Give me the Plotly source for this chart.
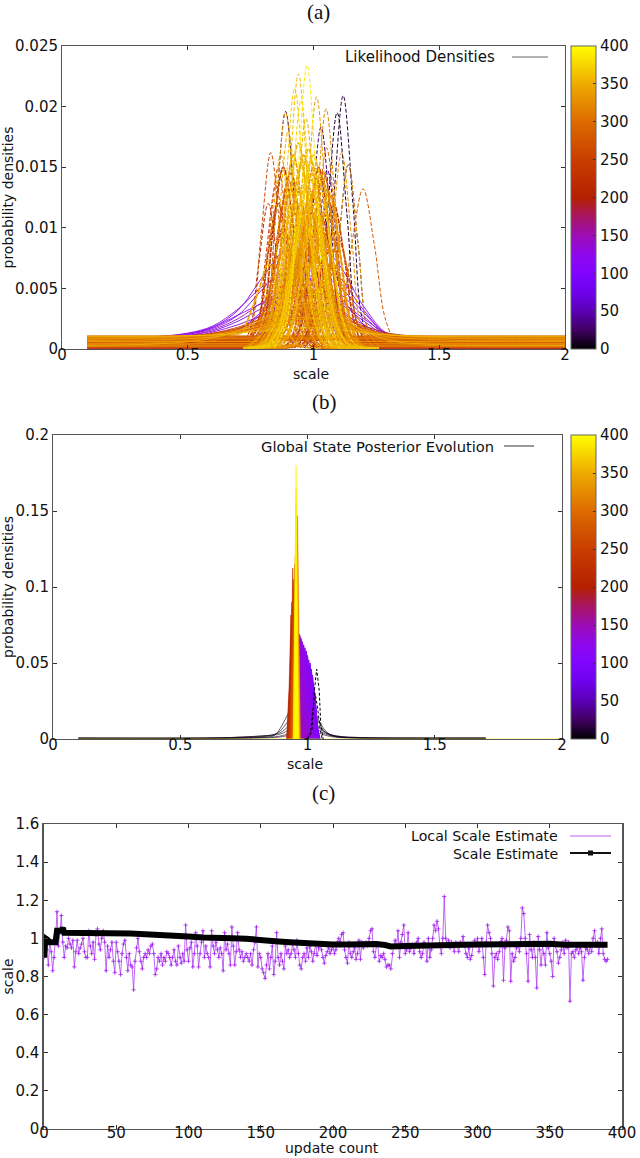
import plotly.graph_objects as go
from plotly.colors import sample_colorscale

W, H = 640, 1158

# colour scale (update count 0..400)
cb_stops = [0, 25, 50, 75, 100, 125, 150, 175, 200, 250, 300, 350, 400]
cb_colors = ["rgb(0,0,0)", "rgb(64,0,98)", "rgb(90,0,180)", "rgb(110,2,236)", "rgb(128,4,255)",
             "rgb(143,8,236)", "rgb(156,13,180)", "rgb(168,21,98)", "rgb(180,32,0)", "rgb(201,62,0)",
             "rgb(221,107,0)", "rgb(238,171,0)", "rgb(255,255,0)"]
cb_ticks = [0, 50, 100, 150, 200, 250, 300, 350, 400]

# ---- panel (a): densities typed in thousandths ----
a_x_ticks = [0, 0.5, 1, 1.5, 2]
a_y_ticks = [0, 0.005, 0.01, 0.015, 0.02, 0.025]
a_y_labels = ["0", "0.005", "0.01", "0.015", "0.02", "0.025"]

# tall narrow likelihoods, each with its own x points
tall_t = [15, 10, 20, 30, 25, 35, 18, 260, 280, 330, 340, 320, 340, 360, 390, 375, 345, 330, 300, 350, 370, 290, 340, 250, 210]
tall_x = [
    [.988, 1.038, 1.078, 1.118, 1.158, 1.198, 1.248],
    [.964, 1.014, 1.054, 1.094, 1.134, 1.174, 1.224],
    [.759, .809, .849, .889, .929, .969, 1.019],
    [.900, .950, .990, 1.030, 1.070, 1.110, 1.160],
    [.890, .940, .980, 1.020, 1.060, 1.100, 1.150],
    [.925, .975, 1.015, 1.055, 1.095, 1.135, 1.185],
    [1.008, 1.058, 1.098, 1.138, 1.178, 1.218, 1.268],
    [.700, .750, .790, .830, .870, .910, .960],
    [1.060, 1.110, 1.152, 1.197, 1.242, 1.284, 1.330],
    [.982, 1.032, 1.072, 1.112, 1.152, 1.192, 1.242],
    [1.008, 1.058, 1.098, 1.138, 1.178, 1.218, 1.268],
    [.920, .970, 1.010, 1.050, 1.090, 1.130, 1.180],
    [.882, .932, .972, 1.012, 1.052, 1.092, 1.142],
    [.810, .860, .900, .940, .980, 1.020, 1.070],
    [.844, .894, .934, .974, 1.014, 1.054, 1.104],
    [.820, .870, .910, .950, .990, 1.030, 1.080],
    [.840, .890, .930, .970, 1.010, 1.050, 1.100],
    [.759, .809, .849, .889, .929, .969, 1.019],
    [.922, .972, 1.012, 1.052, 1.092, 1.132, 1.182],
    [.770, .820, .860, .900, .940, .980, 1.030],
    [.795, .845, .885, .925, .965, 1.005, 1.055],
    [.730, .780, .820, .860, .900, .940, .990],
    [.740, .790, .830, .870, .910, .950, 1.000],
    [.720, .770, .810, .850, .890, .930, .980],
    [.690, .740, .780, .820, .860, .900, .950],
]
tall_y = [
    [.1, 2.1, 11.7, 20.9, 11.7, 2.1, .1],
    [.1, 2.0, 10.9, 19.5, 10.9, 2.0, .1],
    [.1, 2.0, 11.0, 19.6, 11.0, 2.0, .1],
    [.1, 1.8, 10.2, 18.3, 10.2, 1.8, .1],
    [.1, 1.5, 8.3, 14.8, 8.3, 1.5, .1],
    [.1, 1.5, 8.3, 14.8, 8.3, 1.5, .1],
    [.1, 1.5, 8.5, 15.2, 8.5, 1.5, .1],
    [.1, 1.6, 9.1, 16.2, 9.1, 1.6, .1],
    [.1, 2.6, 8.6, 13.2, 8.6, 2.6, .2],
    [.1, 1.6, 9.1, 16.2, 9.1, 1.6, .1],
    [.1, 1.5, 8.5, 15.2, 8.5, 1.5, .1],
    [.1, 2.0, 11.1, 19.8, 11.1, 2.0, .1],
    [.1, 2.1, 11.6, 20.8, 11.6, 2.1, .1],
    [.1, 2.3, 12.7, 22.7, 12.7, 2.3, .1],
    [.1, 2.3, 13.1, 23.4, 13.1, 2.3, .1],
    [.1, 2.1, 11.5, 20.5, 11.5, 2.1, .1],
    [.1, 1.9, 10.6, 19.0, 10.6, 1.9, .1],
    [.1, 2.0, 10.9, 19.5, 10.9, 2.0, .1],
    [.1, 1.7, 9.3, 16.6, 9.3, 1.7, .1],
    [.1, 1.8, 10.0, 18.0, 10.0, 1.8, .1],
    [.1, 2.2, 12.0, 21.5, 12.0, 2.2, .1],
    [.1, 1.5, 8.4, 15.0, 8.4, 1.5, .1],
    [.1, 1.6, 9.0, 16.0, 9.0, 1.6, .1],
    [.1, 1.4, 7.6, 13.5, 7.6, 1.4, .1],
    [.1, 1.2, 6.7, 12.0, 6.7, 1.2, .1],
]

# the dense orange mass, on three shared grids
mass_grid_a = [.72, .78, .82, .86, .90, .94, .98, 1.02, 1.06, 1.10, 1.14, 1.18, 1.24]
mass_a_t = [230, 290, 330, 355, 310, 340, 360, 325, 350, 260, 300, 335, 215, 280, 345, 320, 120, 150, 180, 365]
mass_a_y = [
    [.3, 2.4, 8.0, 12.0, 8.0, 2.4, .4, .1, .1, .1, .1, .1, .1],
    [.1, .6, 2.8, 9.4, 14.0, 9.4, 2.8, .4, .1, .1, .1, .1, .1],
    [.1, .4, 2.0, 6.7, 10.0, 6.7, 2.0, .3, .1, .1, .1, .1, .1],
    [.1, .2, .5, 3.4, 11.4, 17.0, 11.4, 3.4, .5, .1, .1, .1, .1],
    [.1, .2, .4, 2.6, 8.7, 13.0, 8.7, 2.6, .4, .1, .1, .1, .1],
    [.1, .2, .3, 1.8, 6.0, 9.0, 6.0, 1.8, .3, .1, .1, .1, .1],
    [.1, .1, .2, .5, 3.3, 11.0, 16.5, 11.0, 3.3, .5, .1, .1, .1],
    [.1, .1, .2, .4, 2.4, 8.0, 12.0, 8.0, 2.4, .4, .1, .1, .1],
    [.1, .1, .2, .3, 1.4, 4.7, 7.0, 4.7, 1.4, .3, .1, .1, .1],
    [.1, .1, .1, .2, .5, 3.0, 10.0, 15.0, 10.0, 3.0, .5, .1, .1],
    [.1, .1, .1, .2, .4, 2.0, 6.7, 10.0, 6.7, 2.0, .4, .1, .1],
    [.1, .1, .1, .1, .2, .5, 2.6, 8.7, 13.0, 8.7, 2.6, .4, .1],
    [.1, .1, .1, .1, .2, .4, 1.6, 5.4, 8.0, 5.4, 1.6, .3, .1],
    [.1, .1, .1, .1, .1, .2, .4, 1.8, 6.0, 9.0, 6.0, 1.8, .2],
    [1.4, 4.7, 7.0, 4.7, 1.4, .3, .1, .1, .1, .1, .1, .1, .1],
    [.1, .9, 3.0, 5.5, 7.0, 5.5, 3.0, .9, .2, .1, .1, .1, .1],
    [.2, 1.0, 2.6, 4.4, 6.0, 7.0, 6.0, 4.4, 2.6, 1.0, .3, .1, .1],
    [.2, .9, 2.2, 4.0, 5.8, 7.5, 7.8, 5.8, 3.4, 1.4, .5, .1, .1],
    [.1, .5, 1.4, 3.0, 5.2, 7.2, 8.0, 7.2, 5.0, 2.4, .8, .2, .1],
    [.1, .2, .4, 1.6, 5.4, 11.0, 14.5, 11.0, 5.4, 1.6, .4, .1, .1],
]
mass_grid_b = [.74, .80, .84, .88, .92, .96, 1.00, 1.04, 1.08, 1.12, 1.16, 1.20, 1.26]
mass_b_t = [220, 275, 335, 350, 305, 345, 360, 315, 355, 285, 330, 240, 320, 295, 340, 200, 270, 310, 370, 325]
mass_b_y = [
    [.4, 3.0, 10.0, 15.0, 10.0, 3.0, .5, .1, .1, .1, .1, .1, .1],
    [.3, 2.0, 6.7, 10.0, 6.7, 2.0, .3, .1, .1, .1, .1, .1, .1],
    [.1, .5, 3.2, 10.7, 16.0, 10.7, 3.2, .5, .1, .1, .1, .1, .1],
    [.1, .4, 2.4, 8.0, 12.0, 8.0, 2.4, .4, .1, .1, .1, .1, .1],
    [.1, .2, 1.6, 5.4, 8.0, 5.4, 1.6, .3, .1, .1, .1, .1, .1],
    [.1, .1, .4, 3.2, 10.7, 16.0, 10.7, 3.2, .5, .1, .1, .1, .1],
    [.1, .1, .3, 2.2, 7.4, 11.0, 7.4, 2.2, .3, .1, .1, .1, .1],
    [.1, .1, .2, .5, 3.0, 10.0, 15.0, 10.0, 3.0, .5, .1, .1, .1],
    [.1, .1, .2, .4, 2.2, 7.4, 11.0, 7.4, 2.2, .4, .1, .1, .1],
    [.1, .1, .1, .2, .5, 2.9, 9.8, 14.6, 9.8, 2.9, .5, .1, .1],
    [.1, .1, .1, .2, .4, 1.9, 6.4, 9.5, 6.4, 1.9, .4, .1, .1],
    [.1, .1, .1, .1, .2, .5, 2.4, 8.0, 12.0, 8.0, 2.4, .4, .1],
    [.1, .1, .1, .1, .2, .4, 1.4, 4.7, 7.0, 4.7, 1.4, .3, .1],
    [.6, 3.0, 6.0, 8.0, 6.0, 3.0, .6, .2, .1, .1, .1, .1, .1],
    [.2, 1.4, 3.6, 6.0, 8.4, 6.0, 3.6, 1.4, .4, .1, .1, .1, .1],
    [.2, 1.2, 2.8, 5.0, 7.0, 8.4, 7.0, 5.0, 2.8, 1.2, .3, .1, .1],
    [.1, .8, 2.2, 4.4, 7.4, 10.2, 10.8, 7.4, 4.0, 1.8, .5, .1, .1],
    [.1, .3, 1.2, 3.0, 6.0, 9.0, 11.2, 9.6, 6.0, 2.6, .8, .2, .1],
    [.1, .2, .5, 2.2, 7.0, 12.4, 16.0, 12.4, 7.0, 2.2, .5, .1, .1],
    [.1, .1, .4, 1.6, 4.8, 9.2, 13.0, 13.6, 9.0, 3.4, .8, .2, .1],
]
mass_grid_c = [.73, .79, .83, .87, .91, .95, .99, 1.03, 1.07, 1.11, 1.15, 1.19, 1.25]
mass_c_t = [235, 315, 340, 325, 355, 300, 345, 265, 330, 310, 350, 285, 335, 320, 345, 360]
mass_c_y = [
    [.2, 1.6, 5.4, 11.0, 14.5, 9.5, 3.0, .5, .1, .1, .1, .1, .1],
    [.1, .6, 2.6, 8.4, 13.2, 11.0, 4.4, .8, .1, .1, .1, .1, .1],
    [.1, .4, 1.5, 5.0, 10.6, 15.2, 10.6, 3.2, .5, .1, .1, .1, .1],
    [.1, .3, 1.0, 3.4, 8.0, 12.0, 8.0, 3.0, .6, .1, .1, .1, .1],
    [.1, .2, .6, 2.4, 6.4, 11.0, 15.6, 10.4, 3.0, .5, .1, .1, .1],
    [.1, .2, .5, 1.8, 4.6, 8.6, 11.4, 8.2, 3.2, .7, .1, .1, .1],
    [.1, .1, .4, 1.2, 3.4, 7.0, 12.0, 14.4, 8.6, 2.6, .4, .1, .1],
    [.1, .1, .3, 1.0, 2.6, 5.4, 9.0, 11.0, 7.6, 2.8, .6, .1, .1],
    [.1, .1, .2, .6, 1.8, 4.0, 7.0, 10.0, 12.6, 7.4, 2.2, .4, .1],
    [.1, .5, 1.8, 4.2, 7.4, 9.6, 7.2, 3.8, 1.2, .2, .1, .1, .1],
    [.1, .4, 1.4, 3.6, 7.0, 10.4, 9.2, 5.2, 1.8, .3, .1, .1, .1],
    [.1, .3, 1.2, 3.0, 5.6, 8.0, 8.8, 6.6, 3.0, .8, .1, .1, .1],
    [.1, .2, .8, 2.4, 5.2, 8.6, 10.2, 8.0, 4.0, 1.2, .2, .1, .1],
    [.1, .2, .6, 1.8, 4.2, 7.4, 9.4, 8.8, 5.4, 2.0, .4, .1, .1],
    [.1, .3, .9, 2.6, 6.2, 10.0, 13.0, 10.2, 5.0, 1.4, .2, .1, .1],
    [.1, .2, .7, 2.2, 5.6, 9.8, 12.0, 8.4, 3.6, 1.0, .2, .1, .1],
]

# wide low likelihoods
wide_x = [.1, .35, .5, .6, .7, .8, .9, 1.0, 1.1, 1.2, 1.3, 1.45, 1.6, 2.0]
wide_t = [110, 95, 130, 150, 120, 85, 140, 100, 160, 210, 235, 255, 270, 285, 300, 315, 325, 340, 350, 330, 345, 360, 295, 225, 295, 320]
wide_y = [
    [.9, 1.0, 1.3, 1.8, 3.2, 6.0, 8.5, 9.0, 7.0, 3.5, 1.2, 1.0, .9, .9],
    [.8, .9, 1.2, 1.7, 2.8, 5.0, 7.0, 7.6, 6.0, 3.2, 1.1, .9, .8, .8],
    [.7, .9, 1.3, 1.9, 3.3, 5.2, 6.2, 6.4, 5.2, 3.0, 1.1, .8, .7, .7],
    [.5, .7, 1.1, 1.6, 2.5, 3.9, 5.0, 5.3, 4.6, 2.7, 1.0, .6, .5, .5],
    [.4, .7, 1.2, 1.8, 2.8, 3.8, 4.5, 4.6, 4.0, 2.5, 1.2, .6, .4, .4],
    [.6, .8, 1.1, 1.5, 2.3, 3.4, 4.2, 4.4, 3.8, 2.3, 1.0, .7, .6, .6],
    [.3, .5, .9, 1.4, 2.0, 2.8, 3.4, 3.5, 3.0, 2.0, .9, .5, .3, .3],
    [.2, .3, .5, .9, 1.6, 3.2, 5.5, 6.0, 4.4, 2.0, .5, .3, .2, .2],
    [.2, .3, .5, .8, 1.5, 3.0, 5.0, 5.2, 3.5, 1.6, .5, .3, .2, .2],
    [.9, 1.0, 1.1, 1.3, 1.7, 2.3, 2.9, 3.0, 2.6, 1.9, 1.3, 1.0, .9, .9],
    [.8, .9, 1.0, 1.2, 1.6, 2.1, 2.6, 2.7, 2.3, 1.7, 1.2, .9, .8, .8],
    [.7, .8, 1.0, 1.3, 1.8, 2.5, 3.1, 3.2, 2.7, 1.8, 1.1, .8, .7, .7],
    [.95, 1.0, 1.1, 1.2, 1.5, 1.9, 2.3, 2.4, 2.0, 1.5, 1.2, 1.0, .95, .95],
    [.6, .7, .9, 1.2, 1.7, 2.6, 3.4, 3.6, 2.9, 1.8, 1.0, .7, .6, .6],
    [.5, .6, .8, 1.1, 1.6, 2.2, 2.7, 2.8, 2.4, 1.6, .9, .6, .5, .5],
    [1.0, 1.0, 1.1, 1.2, 1.4, 1.7, 2.0, 2.1, 1.8, 1.4, 1.15, 1.05, 1.0, 1.0],
    [.4, .5, .7, 1.0, 1.5, 2.4, 3.2, 3.4, 2.6, 1.5, .8, .5, .4, .4],
    [.9, .95, 1.05, 1.2, 1.5, 2.0, 2.5, 2.6, 2.2, 1.6, 1.2, 1.0, .9, .9],
    [.3, .4, .6, .9, 1.5, 2.5, 3.5, 3.7, 2.8, 1.5, .7, .4, .3, .3],
    [.8, .9, 1.0, 1.1, 1.35, 1.7, 2.1, 2.2, 1.9, 1.5, 1.15, .95, .85, .8],
    [.7, .75, .85, 1.0, 1.3, 1.8, 2.3, 2.5, 2.1, 1.4, 1.0, .8, .7, .7],
    [1.05, 1.05, 1.1, 1.15, 1.3, 1.5, 1.7, 1.75, 1.6, 1.35, 1.15, 1.05, 1.05, 1.05],
    [.5, .55, .7, .9, 1.3, 2.0, 2.9, 3.1, 2.3, 1.3, .75, .55, .5, .5],
    [.85, .9, 1.0, 1.15, 1.45, 1.9, 2.4, 2.5, 2.1, 1.5, 1.1, .95, .85, .85],
    [.6, .65, .8, 1.0, 1.35, 1.9, 2.4, 2.6, 2.2, 1.5, .95, .7, .6, .6],
    [.2, .3, .4, .7, 1.2, 2.2, 3.2, 3.4, 2.4, 1.2, .55, .3, .2, .2],
]

# nearly flat likelihoods: the low ones stop around the middle, the upper ones run across
floor_gap_x = [0.1, 0.78, None, 1.12, 2.0]
floor_full_x = [0.1, 2.0]
floor_low_t = [215, 120, 270, 240, 310, 100, 225, 330, 205, 285, 140, 320, 215, 255, 205, 290, 340, 235]
floor_low_y = [.05, .08, .12, .16, .2, .23, .27, .31, .34, .38, .41, .45, .49, .52, .56, .6, .63, .67]
floor_full_t = [225, 270, 130, 295, 215, 310, 205, 280, 235, 320, 215, 280]
floor_full_y = [.71, .74, .77, .8, .83, .86, .89, .92, .95, .98, 1.02, 1.08]

# ---- panel (b) ----
b_x_ticks = [0, 0.5, 1, 1.5, 2]
b_y_ticks = [0, 0.05, 0.1, 0.15, 0.2]
b_y_labels = ["0", "0.05", "0.1", "0.15", "0.2"]

# wide early posteriors in black, shared grid
black_x = [.1, .6, .75, .82, .87, .9, .925, .95, 1.0, 1.04, 1.07, 1.1, 1.14, 1.2, 1.3, 1.7]
black_t = [1, 3, 5, 7, 9, 10]
black_y = [
    [.0008, .0008, .0009, .0012, .0024, .009, .0171, .024, .03, .014, .0055, .002, .001, .0009, .0008, .0008],
    [.0006, .0006, .001, .0016, .003, .0065, .012, .016, .022, .012, .0045, .002, .0012, .0008, .0007, .0006],
    [.0004, .0005, .0013, .002, .003, .0048, .0085, .012, .016, .009, .0045, .0024, .0014, .001, .0006, .0004],
    [.0002, .0004, .0014, .002, .0026, .0036, .006, .009, .012, .008, .004, .0025, .0015, .001, .0004, .0002],
    [.0001, .0002, .0006, .001, .0014, .0022, .0036, .0055, .008, .006, .0032, .002, .0012, .0006, .0002, .0001],
    [.0001, .0002, .0004, .0007, .001, .0015, .0024, .0036, .005, .0042, .0024, .0014, .0008, .0004, .0002, .0001],
]

# dashed early narrow posteriors
dashed_t = [0, 4]
dashed_x = [[1.0, 1.018, 1.026, 1.036, 1.046, 1.052, 1.062], [.995, 1.012, 1.02, 1.03, 1.04, 1.05, 1.058]]
dashed_y = [[0, .006, .03, .046, .032, .01, 0], [0, .003, .018, .03, .02, .006, 0]]

# purple band, peak walking left as updates go on
purple_t = [90, 93, 96, 99, 102, 105, 108, 111, 114, 117, 120, 123, 126, 129, 132, 135, 138, 141]
purple_x = [
    [1.0, 1.018, 1.032, 1.04, 1.05], [.995, 1.016, 1.03, 1.04, 1.048],
    [.99, 1.012, 1.028, 1.038, 1.046], [.985, 1.006, 1.024, 1.036, 1.044],
    [.98, 1.0, 1.02, 1.033, 1.042], [.975, .995, 1.015, 1.03, 1.04],
    [.97, .99, 1.01, 1.026, 1.038], [.965, .985, 1.005, 1.022, 1.036],
    [.96, .98, 1.0, 1.018, 1.032], [.955, .975, .995, 1.014, 1.028],
    [.952, .97, .99, 1.01, 1.024], [.95, .965, .985, 1.005, 1.02],
    [.948, .962, .98, 1.0, 1.016], [.946, .958, .975, .995, 1.012],
    [.944, .954, .972, .99, 1.008], [.942, .952, .97, .985, 1.004],
    [.94, .95, .968, .98, 1.0], [.938, .948, .965, .976, .996],
]
purple_y = [
    [0, .006, .018, .006, 0], [0, .008, .026, .008, 0],
    [0, .01, .03, .01, 0], [0, .012, .036, .012, 0],
    [0, .016, .042, .016, 0], [0, .018, .046, .018, 0],
    [0, .02, .05, .02, 0], [0, .022, .052, .02, 0],
    [0, .024, .055, .022, 0], [0, .026, .058, .024, 0],
    [0, .028, .06, .024, 0], [0, .03, .062, .024, 0],
    [0, .032, .064, .024, 0], [0, .034, .066, .024, 0],
    [0, .036, .067, .022, 0], [0, .036, .068, .02, 0],
    [0, .036, .069, .018, 0], [0, .036, .069, .016, 0],
]

# the late spike
spike_t = [170, 190, 205, 215, 230, 250, 265, 280, 300, 320, 335, 350, 370, 385, 395]
spike_x = [
    [.922, .934, .945, .952, .962], [.92, .93, .938, .944, .954],
    [.918, .928, .935, .942, .95], [.92, .931, .938, .945, .952],
    [.924, .936, .942, .948, .954], [.928, .938, .944, .95, .956],
    [.932, .94, .946, .952, .958], [.936, .944, .95, .956, .962],
    [.94, .947, .952, .958, .964], [.948, .955, .961, .967, .972],
    [.946, .953, .958, .964, .97], [.944, .95, .957, .963, .969],
    [.944, .949, .954, .959, .965], [.945, .95, .955, .96, .965],
    [.947, .952, .955, .958, .963],
]
spike_y = [
    [0, .02, .05, .02, 0], [0, .03, .065, .03, 0],
    [0, .035, .0816, .035, 0], [0, .04, .09, .04, 0],
    [0, .05, .1125, .05, 0], [0, .05, .105, .05, 0],
    [0, .05, .1, .05, 0], [0, .055, .115, .055, 0],
    [0, .055, .12, .055, 0], [0, .065, .147, .065, 0],
    [0, .06, .13, .06, 0], [0, .07, .14, .07, 0],
    [0, .07, .155, .07, 0], [0, .075, .165, .075, 0],
    [0, .08, .18, .08, 0],
]
# last posteriors lie flat on the axis away from the spike
tail_t = [395]
tail_x = [.1, 2.0]
tail_y = [0, 0]

# ---- panel (c) ----
c_x_ticks = [0, 50, 100, 150, 200, 250, 300, 350, 400]
c_y_ticks = [0, 0.2, 0.4, 0.6, 0.8, 1, 1.2, 1.4, 1.6]
c_y_labels = ["0", "0.2", "0.4", "0.6", "0.8", "1", "1.2", "1.4", "1.6"]

local_scale = [
    .90, .98, .94, .86, .98, .93, .83, .90, 1.00, 1.14,
    .96, 1.03, 1.12, .98, .90, .96, .95, 1.00, .97, .95,
    .99, .85, .93, .99, .92, .95, .97, 1.00, .93, .90,
    .90, 1.04, .96, .92, .98, .89, 1.02, 1.05, .97, .94,
    1.00, 1.04, .98, .83, .96, .90, .94, .98, .88, .82,
    .98, .93, .88, .81, .92, .97, .99, .90, .83, .92,
    .86, .85, .73, .88, .95, 1.00, .93, .88, .84, .90,
    .92, .90, .94, .92, .96, .97, .92, .81, .84, .90,
    .88, .92, .86, .90, .88, .93, .92, .90, .86, .90,
    .94, .88, .86, .96, .90, .87, .92, .88, 1.07, .94,
    .88, .95, .98, .85, .92, 1.03, .96, .85, .92, .98,
    1.04, .90, .96, .92, .90, .85, 1.04, .96, .92, .98,
    .94, .90, .95, .92, .83, 1.03, .94, .97, .92, .86,
    1.06, .96, .86, .93, 1.03, .94, .90, .93, .88, .90,
    .92, .90, .88, .92, .86, .94, .98, 1.06, .85, .92,
    .90, .84, .82, .79, .86, .92, .84, .90, .96, .81,
    .88, 1.03, .90, .86, .92, .88, .84, .96, .92, .94,
    .90, .92, .97, .94, .90, .99, .92, .86, .84, .90,
    .92, .88, .95, .90, .96, .93, .88, .92, .97, .91,
    .95, .97, .94, .90, .87, .91, .93, .95, .92, .94,
    .96, .92, .94, .98, 1.00, .98, 1.02, 1.03, .94, .90,
    .87, .98, .92, .90, .93, .95, .89, .92, .99, .89,
    .98, .95, .97, .98, .96, 1.00, 1.04, 1.05, .93, .90,
    .96, .97, .88, .91, .90, .92, .89, .85, .86, .86,
    .84, .92, .96, .99, .96, 1.04, .90, .98, 1.02, 1.07,
    .92, .94, 1.03, .93, .95, .97, .92, .96, .98, 1.00,
    .93, .90, .92, .98, .97, .88, 1.00, .90, .94, 1.00,
    1.07, 1.04, 1.09, 1.05, .96, .92, 1.00, 1.22, 1.00, .97,
    .99, .95, .98, .96, .93, .98, .96, .93, .98, .97,
    1.01, .96, .92, .90, .95, .89, .91, .97, .99, .96,
    1.00, .93, .97, 1.00, .90, .81, .98, 1.07, 1.03, 1.00,
    .92, .75, .90, .92, .89, .93, .98, 1.00, .78, .95,
    .99, 1.06, 1.04, .775, .92, .88, .90, .95, .97, .93,
    1.00, 1.16, 1.13, 1.00, .92, .775, 1.02, .94, .90, .98,
    .90, .74, 1.01, .94, .86, .96, .92, .86, 1.03, .95,
    .92, .88, .80, 1.00, .96, .93, .87, .90, .94, .98,
    .92, .99, .95, .98, .67, .92, .93, .90, .94, .96,
    .92, .95, .93, .78, .90, .95, .94, .92, .96, .93,
    1.00, 1.04, .96, .98, .92, 1.00, 1.05, .92, .89, .88,
    .89,
]

scale_updates = [0, 1, 2, 4, 8, 9, 12, 13, 14, 20, 30, 40, 50, 60, 70, 80, 90, 100, 110, 120, 130, 140, 150, 160, 170,
                 180, 190, 200, 210, 220, 230, 236, 240, 250, 260, 270, 272, 280, 290, 300, 305, 320, 335, 350, 360, 375, 390]
scale_estimate = [.90, 1.0, .995, .98, .98, 1.04, 1.04, 1.055, 1.03, 1.03, 1.03, 1.028, 1.026, 1.025, 1.022, 1.02, 1.015, 1.01,
                  1.005, 1.0, 1.0, .998, .995, .985, .98, .975, .97, .968, .968, .97, .97, .965, .958, .96, .96, .96,
                  .967, .967, .967, .968, .968, .97, .975, .972, .967, .967, .967]

colorscale = [[s / 400, c] for s, c in zip(cb_stops, cb_colors)]


def cmap(t):
    return sample_colorscale(colorscale, [t / 400])[0]


def dom_x(left, right):
    return [left / W, right / W]


def dom_y(top, bottom):
    return [1 - bottom / H, 1 - top / H]


def draw_sorted(fig, curves, xaxis, yaxis):
    # gnuplot drew them in update order, so later (yellow) ones end up on top
    for c in sorted(curves, key=lambda c: c["t"]):
        fig.add_trace(go.Scatter(
            x=c["x"], y=c["y"], mode="lines", xaxis=xaxis, yaxis=yaxis, showlegend=False,
            hoverinfo="skip", fill=c.get("fill"), fillcolor=cmap(c["t"]) if c.get("fill") else None,
            line=dict(color=cmap(c["t"]), width=c["w"], dash=c["dash"], shape=c["shape"]),
            connectgaps=False))


fig = go.Figure()

curves_a = []
for t, x, y in zip(tall_t, tall_x, tall_y):
    curves_a.append(dict(t=t, x=x, y=[v / 1000 for v in y], w=1, dash="4px,2px", shape="spline"))
for grid, times, rows in [(mass_grid_a, mass_a_t, mass_a_y), (mass_grid_b, mass_b_t, mass_b_y),
                          (mass_grid_c, mass_c_t, mass_c_y)]:
    for t, y in zip(times, rows):
        curves_a.append(dict(t=t, x=grid, y=[v / 1000 for v in y], w=1.6, dash="5px,1px", shape="spline"))
for t, y in zip(wide_t, wide_y):
    curves_a.append(dict(t=t, x=wide_x, y=[v / 1000 for v in y], w=0.9, dash="solid", shape="spline"))
for t, v in zip(floor_low_t, floor_low_y):
    curves_a.append(dict(t=t, x=floor_gap_x, y=[v / 1000, v / 1000, None, v / 1000, v / 1000], w=1, dash="solid", shape="linear"))
for t, v in zip(floor_full_t, floor_full_y):
    curves_a.append(dict(t=t, x=floor_full_x, y=[v / 1000, v / 1000], w=1, dash="solid", shape="linear"))
draw_sorted(fig, curves_a, "x", "y")

curves_b = []
for t, y in zip(black_t, black_y):
    curves_b.append(dict(t=t, x=black_x, y=y, w=0.6, dash="solid", shape="spline"))
for t, x, y in zip(purple_t, purple_x, purple_y):
    curves_b.append(dict(t=t, x=x, y=y, w=1, dash="solid", shape="linear", fill="tozeroy"))
for t, x, y in zip(spike_t, spike_x, spike_y):
    curves_b.append(dict(t=t, x=x, y=y, w=0.6, dash="solid", shape="linear", fill="tozeroy"))
curves_b.append(dict(t=tail_t[0], x=tail_x, y=tail_y, w=0.6, dash="solid", shape="linear"))
draw_sorted(fig, curves_b, "x2", "y2")
# the two dashed ones stay visible over the purple
draw_sorted(fig, [dict(t=t, x=x, y=y, w=1, dash="3px,2px", shape="linear")
                  for t, x, y in zip(dashed_t, dashed_x, dashed_y)], "x2", "y2")

fig.add_trace(go.Scatter(
    x=list(range(len(local_scale))), y=local_scale, mode="lines+markers", xaxis="x3", yaxis="y3", showlegend=False,
    line=dict(color="#b040f0", width=0.8),
    marker=dict(symbol="cross-thin", size=3, line=dict(color="#a020f0", width=0.8))))
fig.add_trace(go.Scatter(
    x=scale_updates, y=scale_estimate, mode="lines", xaxis="x3", yaxis="y3", showlegend=False,
    line=dict(color="black", width=6)))


# colour bars hang off empty traces
def add_colorbar(top, bottom):
    fig.add_trace(go.Scatter(
        x=[None], y=[None], mode="markers", xaxis="x", yaxis="y", showlegend=False, hoverinfo="skip",
        marker=dict(color=[0], cmin=0, cmax=400, colorscale=colorscale,
                    colorbar=dict(
                        x=571 / W, xanchor="left", xpad=0, ypad=0, thickness=25, thicknessmode="pixels",
                        y=1 - bottom / H, yanchor="bottom", len=(bottom - top) / H, lenmode="fraction",
                        tickvals=cb_ticks, ticks="inside", ticklen=3, tickcolor="#333", outlinecolor="#666",
                        outlinewidth=1, tickfont=dict(family="DejaVu Sans", size=15, color="#111")))))


add_colorbar(46, 349)
add_colorbar(435, 739)


def axis(domain, rng, vals, text=None, anchor=None, title=None, standoff=0, labelgap=0, linew=1):
    return dict(domain=domain, range=rng, anchor=anchor, tickmode="array", tickvals=vals,
                ticktext=text if text else [str(v) for v in vals], ticks="inside", ticklen=4,
                tickcolor="#333", showline=True, linecolor="#555", linewidth=linew, mirror="allticks",
                showgrid=False, zeroline=False, ticklabelstandoff=labelgap,
                tickfont=dict(family="DejaVu Sans", size=15, color="#111"),
                title=dict(text=title, standoff=standoff, font=dict(family="DejaVu Sans", size=14, color="#111")))


fig.update_layout(
    width=W, height=H, margin=dict(l=0, r=0, t=0, b=0, autoexpand=False), paper_bgcolor="white", plot_bgcolor="white",
    xaxis=axis(dom_x(62, 565), [0, 2], a_x_ticks, anchor="y", labelgap=-8),
    yaxis=axis(dom_y(46, 349), [0, 0.025], a_y_ticks, a_y_labels, anchor="x", title="probability densities", standoff=2),
    xaxis2=axis(dom_x(53, 562), [0, 2], b_x_ticks, anchor="y2", labelgap=-8),
    yaxis2=axis(dom_y(435, 739), [0, 0.2], b_y_ticks, b_y_labels, anchor="x2", title="probability densities", standoff=2),
    xaxis3=axis(dom_x(44, 622), [0, 400], c_x_ticks, anchor="y3", labelgap=-10),
    yaxis3=axis(dom_y(824, 1129), [0, 1.6], c_y_ticks, c_y_labels, anchor="x3", title="scale", standoff=2, linew=1.5),
)


def note(txt, x, y, family="DejaVu Sans", size=14, xanchor="center"):
    fig.add_annotation(text=txt, x=x / W, y=1 - y / H, xref="paper", yref="paper", showarrow=False,
                       xanchor=xanchor, yanchor="middle", font=dict(family=family, size=size, color="#111"))


# panel letters
for txt, x, y in [("(a)", 318, 12), ("(b)", 324, 402), ("(c)", 323, 793)]:
    note(txt, x, y, family="Liberation Serif", size=21)
# x axis titles sit closer in than plotly would put them
for txt, x, y in [("scale", 311, 374), ("scale", 305, 764), ("update count", 332, 1148)]:
    note(txt, x, y)
# gnuplot style keys (text right aligned, sample after it)
for txt, x, y, size in [("Likelihood Densities", 497, 57, 15), ("Global State Posterior Evolution", 496, 446, 14.7),
                        ("Local Scale Estimate", 560, 836, 14.2), ("Scale Estimate", 560, 854, 14.2)]:
    note(txt, x, y, size=size, xanchor="right")
for x0, x1, y, col, w in [(512, 548, 57, "#999", 1.5), (504, 534, 446, "#333", 1),
                          (570, 611, 836, "#c060f0", 1), (570, 611, 853, "#111", 2)]:
    fig.add_shape(type="line", xref="paper", yref="paper", x0=x0 / W, x1=x1 / W, y0=1 - y / H, y1=1 - y / H,
                  line=dict(color=col, width=w))
fig.add_shape(type="rect", xref="paper", yref="paper", x0=588 / W, x1=593 / W, y0=1 - 855.5 / H, y1=1 - 850.5 / H,
              fillcolor="#111", line=dict(width=0))

fig.write_html("out.html", config=dict(displayModeBar=False), post_script="document.body.style.margin='0'")
